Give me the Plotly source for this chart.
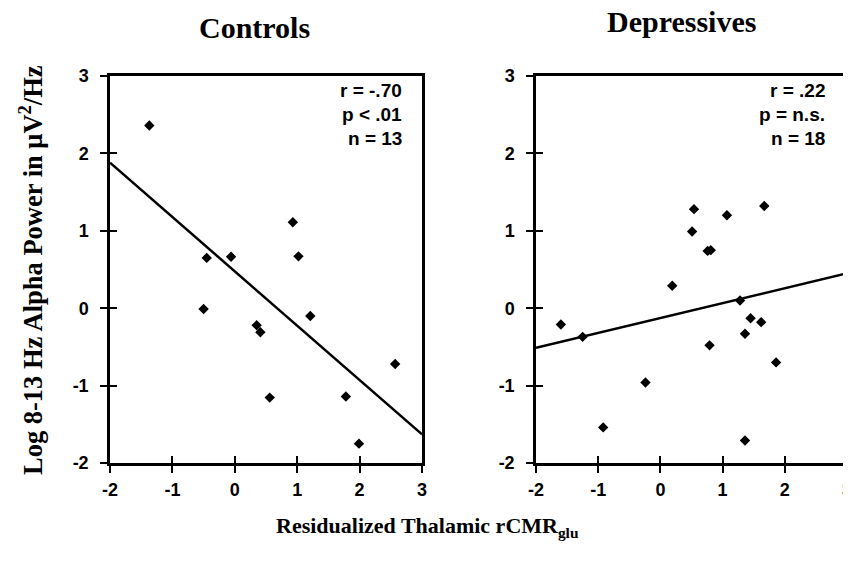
import plotly.graph_objects as go

# Controls data
ctrl_x = [-1.37, -0.45, -0.06, 0.93, 1.02, -0.50, 0.35, 0.41, 1.21, 2.57, 0.56, 1.78, 1.99]
ctrl_y = [2.36, 0.65, 0.665, 1.11, 0.67, -0.01, -0.22, -0.31, -0.10, -0.72, -1.155, -1.14, -1.75]
# Depressives data
dep_x = [-1.60, -1.25, -0.92, -0.24, 0.19, 0.54, 0.51, 0.76, 0.81, 1.07, 0.79, 1.28, 1.45, 1.36, 1.62, 1.67, 1.86, 1.36]
dep_y = [-0.21, -0.37, -1.54, -0.96, 0.29, 1.28, 0.99, 0.74, 0.75, 1.20, -0.48, 0.10, -0.13, -0.33, -0.18, 1.32, -0.70, -1.71]
# Regression lines (endpoints)
fit_x = [-2, 3]
ctrl_fit_y = [1.88, -1.63]
dep_fit_y = [-0.51, 0.45]

tick_vals = [-2, -1, 0, 1, 2, 3]
tick_text = ["-2", "-1", "0", "1", "2", "3"]

panel_titles = ["Controls", "Depressives"]
ctrl_stats = ["r = -.70", "p < .01", "n = 13"]
dep_stats = ["r = .22", "p = n.s.", "n = 18"]

# page has an 8px body margin; figure fills the rest of the window
OFF = 8
W, H = 851 - OFF, 565 - OFF

def px(x):
    return (x - OFF) / W

def py(y):
    return 1 - (y - OFF) / H

xd1 = [px(110), px(422)]
xd2 = [px(536), px(847)]
yd = [py(463), py(76)]

fig = go.Figure()
mk = dict(symbol="diamond", size=8, color="black")
fig.add_trace(go.Scatter(x=ctrl_x, y=ctrl_y, mode="markers", marker=mk, xaxis="x", yaxis="y", showlegend=False))
fig.add_trace(go.Scatter(x=fit_x, y=ctrl_fit_y, mode="lines", line=dict(color="black", width=2.5), xaxis="x", yaxis="y", showlegend=False))
fig.add_trace(go.Scatter(x=dep_x, y=dep_y, mode="markers", marker=mk, xaxis="x2", yaxis="y2", showlegend=False))
fig.add_trace(go.Scatter(x=fit_x, y=dep_fit_y, mode="lines", line=dict(color="black", width=2.5), xaxis="x2", yaxis="y2", showlegend=False))

tickfont = dict(family="Liberation Sans", size=18, color="black")
bold_ticks = ["<b>%s</b>" % t for t in tick_text]

def ax(domain, anchor, overlay=None, inside=False, standoff=10):
    d = dict(domain=domain, anchor=anchor, range=[-2, 3], tickvals=tick_vals, ticktext=bold_ticks,
             showgrid=False, zeroline=False, showline=True, linecolor="black", linewidth=2.5,
             ticks="inside" if inside else "outside", ticklen=7, tickwidth=2, tickcolor="black",
             tickfont=tickfont, fixedrange=True, automargin=False)
    if inside:
        d.update(overlaying=overlay, showticklabels=False, mirror=False)
    else:
        d.update(mirror=True, ticklabelstandoff=standoff, ticklabeloverflow="allow")
    return d

fig.update_layout(
    width=W, height=H, margin=dict(l=0, r=0, t=0, b=0),
    paper_bgcolor="white", plot_bgcolor="white",
    xaxis=ax(xd1, "y", standoff=2), yaxis=ax(yd, "x", standoff=8),
    xaxis2=ax(xd2, "y2", standoff=2), yaxis2=ax(yd, "x2", standoff=8),
    xaxis3=ax(xd1, "y3", overlay="x", inside=True), yaxis3=ax(yd, "x3", overlay="y", inside=True),
    xaxis4=ax(xd2, "y4", overlay="x2", inside=True), yaxis4=ax(yd, "x4", overlay="y2", inside=True),
)
# dummy traces to activate inside-tick axes
fig.add_trace(go.Scatter(x=[None], y=[None], xaxis="x3", yaxis="y3", showlegend=False, hoverinfo="skip"))
fig.add_trace(go.Scatter(x=[None], y=[None], xaxis="x4", yaxis="y4", showlegend=False, hoverinfo="skip"))

serif = dict(family="Liberation Serif", color="black")
ann = []
ann.append(dict(text="<b>%s</b>" % panel_titles[0], x=px(254), y=py(27), xref="paper", yref="paper",
                showarrow=False, font=dict(size=30, **serif), xanchor="center", yanchor="middle"))
ann.append(dict(text="<b>%s</b>" % panel_titles[1], x=px(681), y=py(21), xref="paper", yref="paper",
                showarrow=False, font=dict(size=30, **serif), xanchor="center", yanchor="middle"))
ann.append(dict(text="<b>Log 8-13 Hz Alpha Power in μV<sup>2</sup>/Hz</b>", x=px(31), y=py(270),
                xref="paper", yref="paper", showarrow=False, textangle=-90,
                font=dict(size=26.5, **serif), xanchor="center", yanchor="middle"))
ann.append(dict(text="<b>Residualized Thalamic rCMR<sub>glu</sub></b>", x=px(427), y=py(527),
                xref="paper", yref="paper", showarrow=False,
                font=dict(size=22, **serif), xanchor="center", yanchor="middle"))
sans = dict(family="Liberation Sans", size=19, color="black")
for i, t in enumerate(ctrl_stats):
    ann.append(dict(text="<b>%s</b>" % t, x=px(404), y=py(90 + 24.5 * i), xref="paper", yref="paper",
                    showarrow=False, font=sans, xanchor="right", yanchor="middle"))
for i, t in enumerate(dep_stats):
    ann.append(dict(text="<b>%s</b>" % t, x=px(827), y=py(90 + 24.5 * i), xref="paper", yref="paper",
                    showarrow=False, font=sans, xanchor="right", yanchor="middle"))
fig.update_layout(annotations=ann)

fig.write_html("out.html")
